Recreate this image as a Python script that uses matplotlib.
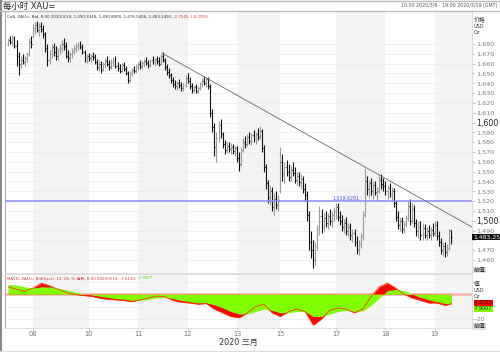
import matplotlib
matplotlib.use('Agg')
import matplotlib.pyplot as plt
from matplotlib.collections import LineCollection
from matplotlib.lines import Line2D

plt.rcParams['font.family'] = ['DejaVu Sans', 'Noto Sans CJK SC']

# ---------------- data (hourly XAU= bars, 2020-03-06 10:00 .. 2020-03-19 08:00) -------------
opens = [1680,1684,1682,1686,1678,1668,1660,1664,1662,1666,1670,1682,
         1688,1696,1699,1694,1698,1695,1690,1676,1664,1670,1677,1672,1668,1674,1676,1680,1678,1668,1666,1670,1673,1676,1678,1680,1677,1672,1665,
         1668,1666,1668,1667,1662,1657,1660,1654,1660,1663,1660,1657,1662,1664,1658,1656,1653,1659,1655,1650,1643,1650,1654,1652,
         1657,1660,1658,1661,1663,1661,1659,1664,1662,1665,1663,1660,1668,1664,1657,1651,1648,1643,1639,1637,1640,1638,1635,1638,
         1645,1642,1637,1633,1636,1632,1635,1639,1642,1640,1644,1637,1610,1595,1575,1584,1598,1588,1578,1572,1576,1573,1575,1571,
         1574,1564,1558,1572,1580,1578,1585,1581,1587,1583,1588,1585,1591,1574,1555,1538,1524,1530,1514,1522,1516,
         1530,1560,1548,
         1555,1550,1545,1552,1549,1542,1546,1539,1543,1532,1526,1506,1478,1470,1460,1474,1492,1505,1494,1503,1498,1505,1500,1506,
         1510,1514,1504,1500,1494,1498,1490,1494,1485,1488,1478,1470,1476,1484,1506,1540,1532,1538,1530,1536,1529,1530,1542,1537,
         1535,1530,1533,1527,1530,1518,1504,1496,1500,1492,1497,1503,1515,1500,1512,1498,1490,1494,1486,1493,1486,1490,1485,1491,
         1488,1496,1484,1478,1470,1474,1468,1472,1490.33]
highs = [1686,1688,1689,1688,1684,1672,1668,1670,1668,1672,1686,1688,
         1700,1702,1703,1701,1702,1699,1692,1680,1674,1680,1681,1678,1676,1680,1684,1686,1682,1674,1672,1676,1679,1681,1682,1683,1680,1674,1670,
         1671,1670,1672,1670,1665,1664,1663,1662,1666,1668,1664,1665,1667,1668,1662,1660,1661,1662,1658,1653,1652,1656,1658,1660,
         1662,1664,1663,1665,1667,1664,1665,1668,1666,1668,1667,1670,1672,1666,1660,1656,1650,1646,1643,1642,1644,1641,1640,1648,
         1650,1646,1640,1638,1639,1637,1641,1645,1647,1646,1646,1639,1614,1600,1590,1602,1604,1590,1582,1580,1580,1579,1578,1576,
         1576,1570,1575,1584,1586,1588,1590,1589,1592,1590,1594,1597,1593,1577,1558,1542,1536,1534,1528,1530,1526,
         1575,1568,1560,
         1562,1558,1556,1560,1555,1550,1550,1548,1546,1538,1530,1510,1490,1480,1478,1496,1515,1512,1508,1510,1508,1512,1510,1514,
         1518,1518,1510,1506,1502,1504,1498,1498,1492,1492,1484,1480,1488,1510,1554,1546,1542,1544,1540,1540,1534,1546,1548,1544,
         1540,1536,1538,1534,1533,1520,1510,1504,1504,1500,1506,1520,1522,1518,1516,1502,1500,1500,1498,1497,1494,1496,1494,1498,
         1500,1500,1490,1482,1478,1478,1476,1492,1490.89]
lows = [1678,1680,1679,1676,1658,1648,1656,1660,1658,1662,1668,1676,
        1686,1690,1692,1688,1692,1686,1672,1658,1660,1666,1668,1664,1664,1670,1672,1674,1666,1662,1662,1666,1670,1672,1674,1675,1670,1662,1661,
        1663,1662,1664,1660,1654,1653,1650,1652,1656,1658,1654,1655,1658,1656,1653,1650,1651,1652,1648,1640,1641,1647,1650,1650,
        1654,1655,1655,1657,1659,1656,1657,1660,1658,1660,1658,1659,1662,1654,1648,1645,1640,1636,1634,1633,1635,1632,1632,1636,
        1640,1634,1630,1631,1630,1630,1633,1636,1638,1636,1634,1606,1590,1566,1560,1580,1584,1574,1568,1569,1570,1568,1568,1566,
        1560,1551,1556,1570,1574,1576,1578,1577,1580,1578,1582,1583,1570,1550,1532,1518,1516,1510,1506,1512,1510,
        1528,1540,1538,
        1546,1540,1540,1546,1538,1536,1535,1532,1528,1520,1500,1470,1462,1452,1455,1470,1485,1488,1490,1494,1492,1496,1494,1500,
        1502,1500,1496,1490,1488,1486,1484,1480,1478,1474,1466,1465,1472,1480,1504,1526,1524,1526,1522,1526,1520,1528,1532,1530,
        1526,1522,1524,1520,1514,1500,1492,1490,1488,1488,1494,1500,1496,1498,1494,1484,1482,1480,1480,1482,1480,1482,1480,1484,
        1484,1480,1474,1466,1464,1463,1464,1470,1476.54]
closes = [1684,1682,1686,1678,1668,1660,1664,1662,1666,1670,1682,1680,
          1696,1699,1694,1698,1695,1690,1676,1664,1670,1677,1672,1668,1674,1676,1680,1678,1668,1666,1670,1673,1676,1678,1680,1677,1672,1665,1668,
          1666,1668,1667,1662,1657,1660,1654,1660,1663,1660,1657,1662,1664,1658,1656,1653,1659,1655,1650,1643,1650,1654,1652,1657,
          1660,1658,1661,1663,1661,1659,1664,1662,1665,1663,1660,1668,1664,1657,1651,1648,1643,1639,1637,1640,1638,1635,1638,1645,
          1642,1637,1633,1636,1632,1635,1639,1642,1640,1644,1637,1610,1595,1575,1584,1598,1588,1578,1572,1576,1573,1575,1571,1574,
          1564,1558,1572,1580,1578,1585,1581,1587,1583,1588,1585,1591,1574,1555,1538,1524,1530,1514,1522,1516,1520,
          1560,1548,1555,
          1550,1545,1552,1549,1542,1546,1539,1543,1532,1526,1506,1478,1470,1460,1474,1492,1505,1494,1503,1498,1505,1500,1506,1510,
          1514,1504,1500,1494,1498,1490,1494,1485,1488,1478,1470,1476,1484,1506,1540,1532,1538,1530,1536,1529,1530,1542,1537,1535,
          1530,1533,1527,1530,1518,1504,1496,1500,1492,1497,1503,1515,1500,1512,1498,1490,1494,1486,1493,1486,1490,1485,1491,1488,
          1496,1484,1478,1470,1474,1468,1472,1490,1483.25]

# day separators (bar index where each labelled day starts) and labels
day_ticks = [12, 39, 63, 87, 111, 132, 159, 183, 207]
day_labels = ['08', '10', '11', '12', '13', '15', '17', '18', '19']

macd_idx = [0,4,8,12,16,20,24,28,32,36,40,44,48,52,56,60,64,68,72,76,80,84,88,92,96,100,
            104,108,112,116,120,124,128,132,136,140,144,148,152,156,160,164,168,172,176,180,
            184,188,192,196,200,204,208,212,215]
macd_vals = [6,4,2.5,5,9,7,4,1.5,0,-1,-1.5,-3,-4,-4.5,-5,-6,-4.5,-3,-1.5,-2,-5,-6.5,-7,-8,-7.5,-12,
             -15,-18,-19,-15,-10,-8,-15,-18,-14,-12,-14,-25,-20,-13,-11,-12,-15,-12,-2,6,
             9,5,0,-3,-5,-7,-7,-9,-7.6133]
signal_vals = [8,7.5,6,5,6,6,5,3.5,2,0.5,-0.5,-1.5,-2.5,-3.5,-4,-5,-5,-4,-3,-2.5,-3.5,-5,-6,-7,-7,-8.5,
               -11,-14,-16,-16,-14,-12,-13,-15,-15,-14,-14,-18,-18,-16,-14,-13,-14,-13.5,-9,-3,
               3,4,3,0,-2.5,-4.5,-6,-7.5,-7.9007]

# drawn annotations: horizontal level and down-trend line
level_price = 1519.6291
trend_x = [74.5, 225]
trend_y = [1670.8, 1493.6]

price_ticks = list(range(1460, 1690, 10))
x_range = (-1.6, 225)

# ---------------- figure ----------------
W, H = 500, 352
fig = plt.figure(figsize=(W/100, H/100), dpi=100)
fig.patch.set_facecolor('white')

def fx(px):
    return px / W

def fy(py):
    return 1 - py / H

ax = fig.add_axes([fx(5), fy(273), fx(467), 262/H])
ax2 = fig.add_axes([fx(5), fy(328), fx(467), 54/H])

n = len(closes)
xs = list(range(n))

# background day shading
bands = list(zip(day_ticks[0::2], (day_ticks[1::2] + [x_range[1]])))
for a in (ax, ax2):
    for s, e in bands:
        a.axvspan(s, e, color='#f4f4f4', lw=0, zorder=0)
    a.set_xlim(*x_range)
    for sp in a.spines.values():
        sp.set_color('#d8d8d8')
        sp.set_linewidth(0.6)
    a.spines['left'].set_color('#9a9a9a')

# OHLC bars
up_segs, dn_segs = [], []
for i in xs:
    segs = [((i, lows[i]), (i, highs[i])),
            ((i - 0.45, opens[i]), (i, opens[i])),
            ((i, closes[i]), (i + 0.45, closes[i]))]
    if closes[i] >= opens[i]:
        up_segs.extend(segs)
    else:
        dn_segs.extend(segs)
ax.add_collection(LineCollection(up_segs, colors='#9a9a9a', linewidths=0.8, zorder=3))
ax.add_collection(LineCollection(dn_segs, colors='#111111', linewidths=0.8, zorder=3))

ax.set_ylim(1446.8, 1713.6)
ax.set_yticks(price_ticks)
ax.grid(axis='y', color='#eeeeee', lw=0.6, zorder=1)
ax.set_axisbelow(True)
ax.yaxis.tick_right()
# the 1,480 label sits under the last-price box in the reference
ax.set_yticklabels(['' if v == 1480 else f'{v:,}' for v in price_ticks])
ax.tick_params(axis='y', length=2, width=0.5, color='#aaaaaa', pad=1, labelsize=4.6, labelcolor='#777777')
for lab, v in zip(ax.get_yticklabels(), price_ticks):
    if v in (1600, 1500):
        lab.set_fontsize(5.8)
        lab.set_color('#222222')
ax.set_xticks([])

# level line & trend line
ax.axhline(level_price, color='#8a8aff', lw=1.1, zorder=4)
ax.text(164, level_price + 0.8, f'{level_price:,.4f}', fontsize=3.4, color='#5555ee',
        ha='center', va='bottom', zorder=5)
ax.plot(trend_x, trend_y, color='#666666', lw=0.6, zorder=4)

# last price box
ax.text(1.002, closes[-1], f'{closes[-1]:,.2f}', transform=ax.get_yaxis_transform(),
        fontsize=4.4, color='white', ha='left', va='center', zorder=10, clip_on=False,
        bbox=dict(boxstyle='square,pad=0.12', fc='#111111', ec='none'))

# legends inside panels
ohlc_txt = 'Cn8, XAU=, Bid, 8:00 2020/3/19, 1,490.3348, 1,490.8900, 1,476.5406, 1,483.2495, '
t1 = ax.text(0.004, 0.985, ohlc_txt, transform=ax.transAxes, fontsize=2.85, color='#333333',
             ha='left', va='top')
fig.canvas.draw()
bb = t1.get_window_extent()
fig.text(bb.x1 / W, (bb.y0 + bb.y1) / 2 / H, '-2.7545, (-0.19%)', fontsize=2.85, color='#ee2222',
         ha='left', va='center')

# MACD panel
ax2.fill_between(macd_idx, 0, macd_vals, color='#ff0000', lw=0, zorder=2)
ax2.fill_between(macd_idx, 0, signal_vals, color='#80ff00', lw=0, zorder=3)
ax2.plot(macd_idx, macd_vals, color='#ff3300', lw=0.6, zorder=4)
ax2.axhline(0, color='#ffb0b0', lw=1.8, zorder=1.5)
ax2.set_ylim(-27.3, 16.4)
ax2.set_yticks([-20, -10, 10])
ax2.grid(axis='y', color='#eeeeee', lw=0.6)
ax2.set_axisbelow(True)
ax2.yaxis.tick_right()
ax2.set_yticklabels(['-20', '', ''])
ax2.tick_params(axis='y', length=2, width=0.5, color='#aaaaaa', pad=1, labelsize=4.2, labelcolor='#777777')
ax2.set_xticks(day_ticks)
ax2.set_xticklabels(day_labels)
ax2.tick_params(axis='x', length=1.5, width=0.5, color='#aaaaaa', pad=0.8, labelsize=4.8, labelcolor='#777777')

m1 = ax2.text(0.004, 0.955, 'MACD, XAU=, Bid(Last), 12, 26, 9, 指数, 8:00 2020/3/19, -7.6133, ',
              transform=ax2.transAxes, fontsize=2.85, color='#dd3333', ha='left', va='top', zorder=6)
fig.canvas.draw()
bb2 = m1.get_window_extent()
fig.text(bb2.x1 / W, (bb2.y0 + bb2.y1) / 2 / H, '-7.9007', fontsize=2.85, color='#55cc00',
         ha='left', va='center')

# right side headers and value boxes
fig.text(fx(474), fy(20), '价格', fontsize=4.2, color='#333333', ha='left', va='center')
fig.text(fx(474), fy(26), 'USD', fontsize=3.6, color='#333333', ha='left', va='center')
fig.text(fx(474), fy(32), 'Oz', fontsize=3.6, color='#333333', ha='left', va='center')
fig.text(fx(474), fy(270), '前值', fontsize=4.2, color='#222222', ha='left', va='center',
         bbox=dict(boxstyle='square,pad=0.12', fc='#dddddd', ec='none'))
fig.text(fx(474), fy(284), '值', fontsize=4.2, color='#333333', ha='left', va='center')
fig.text(fx(474), fy(290), 'USD', fontsize=3.6, color='#333333', ha='left', va='center')
fig.text(fx(474), fy(296), 'Oz', fontsize=3.6, color='#333333', ha='left', va='center')
fig.text(fx(474), fy(303), '-7.6133', fontsize=3.4, color='#222222', ha='left', va='center',
         bbox=dict(boxstyle='square,pad=0.1', fc='#ff0000', ec='none'))
fig.text(fx(474), fy(309), '-7.9007', fontsize=3.4, color='#222222', ha='left', va='center',
         bbox=dict(boxstyle='square,pad=0.1', fc='#80ff00', ec='none'))
fig.text(fx(474), fy(326.5), '前值', fontsize=4.2, color='#222222', ha='left', va='center',
         bbox=dict(boxstyle='square,pad=0.1', fc='#dddddd', ec='none'))

# titles
fig.text(fx(3), fy(6), '每小时 XAU=', fontsize=6, color='#222222', ha='left', va='center')
fig.text(fx(497), fy(6), '10:00 2020/3/6 - 19:00 2020/3/19 (GMT)', fontsize=3.4, color='#555555',
         ha='right', va='center')
fig.text(fx(238), fy(342.5), '2020 三月', fontsize=5.8, color='#333333', ha='center', va='center')

# frame lines of the page
fig.add_artist(Line2D([0, 1], [fy(0.5), fy(0.5)], color='#bbbbbb', lw=1))
fig.add_artist(Line2D([fx(0.8), fx(0.8)], [0, 1], color='#888888', lw=1.5))
fig.add_artist(Line2D([0, 1], [fy(11), fy(11)], color='#bbbbbb', lw=1))
fig.add_artist(Line2D([0, 1], [fy(351), fy(351)], color='#dddddd', lw=1))

fig.savefig('out.png', dpi=100)
